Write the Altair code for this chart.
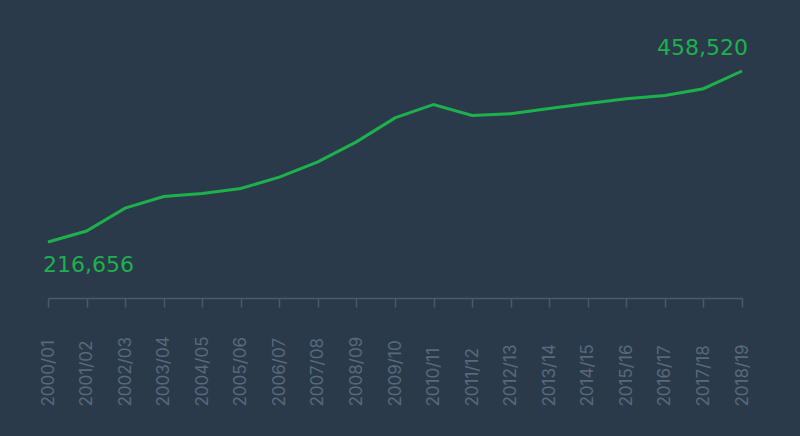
import altair as alt
import pandas as pd
import jinja2

years = ["2000/01", "2001/02", "2002/03", "2003/04", "2004/05", "2005/06", "2006/07",
         "2007/08", "2008/09", "2009/10", "2010/11", "2011/12", "2012/13", "2013/14",
         "2014/15", "2015/16", "2016/17", "2017/18", "2018/19"]
values = [216656, 232200, 264600, 281000, 285200, 292300, 308500,
          330000, 358300, 392200, 411200, 395600, 398200, 405400,
          412600, 419300, 424000, 433500, 458520]

BG = "#2b3a4b"
GREEN = "#1db14c"

df = pd.DataFrame({"year": years, "value": values})
df["label"] = [f"{v:,}" for v in values]

x = alt.X("year:O", sort=years, scale=alt.Scale(type="point", padding=0),
          axis=alt.Axis(title=None, labelAngle=270, labelAlign="left", labelBaseline="middle",
                        labelPadding=99, tickSize=9, labelFont="Inter", labelFontSize=17,
                        labelColor="#58697c", domainColor="#4a5a6b", tickColor="#4a5a6b",
                        domainWidth=1.5, tickWidth=1.5, grid=False))
y = alt.Y("value:Q", scale=alt.Scale(domain=[137470, 530634], zero=False, nice=False), axis=None)

line = alt.Chart(df).mark_line(color=GREEN, strokeWidth=3).encode(x=x, y=y)

first = alt.Chart(df.iloc[[0]]).mark_text(
    align="left", baseline="alphabetic", dx=-5, dy=30, font="DejaVu Sans", fontSize=22,
    color=GREEN).encode(x=x, y=y, text="label:N")
last = alt.Chart(df.iloc[[-1]]).mark_text(
    align="right", baseline="alphabetic", dx=6, dy=-16, font="DejaVu Sans", fontSize=22,
    color=GREEN).encode(x=x, y=y, text="label:N")

chart = (line + first + last).properties(
    width=694, height=278,
    autosize=alt.AutoSizeParams(type="none"),
    padding={"left": 40, "top": 12, "right": 40, "bottom": 120},
    background=BG,
).configure_view(strokeWidth=0)

TEMPLATE = jinja2.Template("""<!DOCTYPE html>
<html>
<head>
  <style>body { background: """ + BG + """; }</style>
  <script type="text/javascript" src="{{ base_url }}/vega@{{ vega_version }}"></script>
  <script type="text/javascript" src="{{ base_url }}/vega-lite@{{ vegalite_version }}"></script>
  <script type="text/javascript" src="{{ base_url }}/vega-embed@{{ vegaembed_version }}"></script>
</head>
<body>
  <div id="{{ output_div }}"></div>
  <script>
    (function(vegaEmbed) {
      var spec = {{ spec }};
      var embedOpt = {{ embed_options }};
      vegaEmbed("#{{ output_div }}", spec, embedOpt);
    })(vegaEmbed);
  </script>
</body>
</html>
""")

chart.save("out.html", embed_options={"renderer": "svg", "actions": False}, template=TEMPLATE)
